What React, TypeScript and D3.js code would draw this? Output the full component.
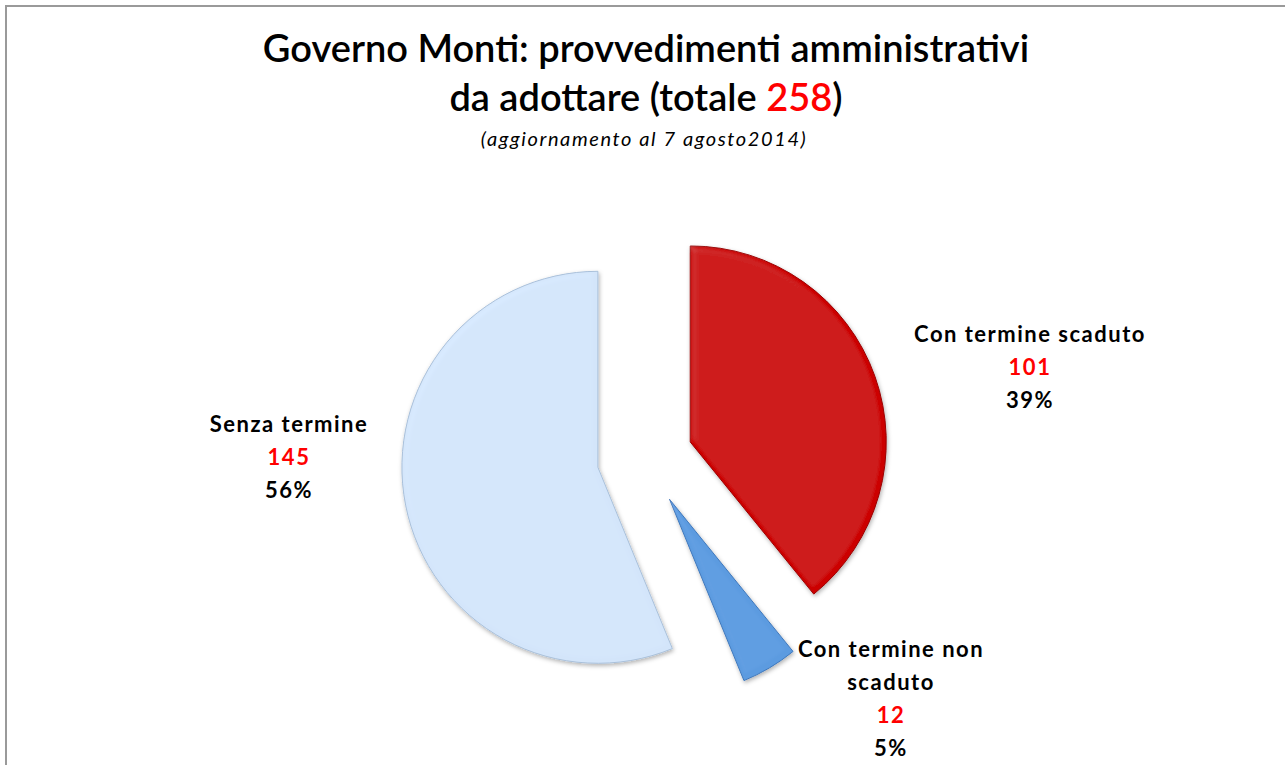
import React from 'react';
import * as d3 from 'd3';

const categories = ['Con termine scaduto', 'Con termine non scaduto', 'Senza termine'];
const values = [101, 12, 145];
const percents = ['39%', '5%', '56%'];
const colors = ['#CC0000', '#5B9BE0', '#D3E5FA'];
const edgeColors = ['#9A0000', '#3F78BC', '#A9C0DA'];

const width = 1285;
const height = 765;
const cx = 645;
const cy = 458;
const radius = 196;
const explode = 48;

// label anchor + line layout per slice
const labelPos = [
    { x: 1030, y: 342, lines: ['Con termine scaduto'] },
    { x: 891, y: 657, lines: ['Con termine non', 'scaduto'] },
    { x: 289, y: 432, lines: ['Senza termine'] },
];

const App = () => {
    const pie = d3.pie<number>().value(d => d).sort(null);
    const arcs = pie(values);
    const arcGen = d3.arc<d3.PieArcDatum<number>>().innerRadius(0).outerRadius(radius);
    const font = 'Lato, "Open Sans", sans-serif';

    return (
        <svg width={width} height={height} style={{ position: 'absolute', left: 0, top: 0 }}>
            <defs>
                <filter id="bevel" x="-20%" y="-20%" width="140%" height="140%">
                    <feGaussianBlur in="SourceAlpha" stdDeviation="3" result="blur" />
                    <feSpecularLighting in="blur" surfaceScale="3" specularConstant="0.5" specularExponent="18" lightingColor="#ffffff" result="spec">
                        <feDistantLight azimuth="225" elevation="50" />
                    </feSpecularLighting>
                    <feComposite in="spec" in2="SourceAlpha" operator="in" result="specIn" />
                    <feComposite in="SourceGraphic" in2="specIn" operator="arithmetic" k1="0" k2="1" k3="0.08" k4="0" result="lit" />
                    <feGaussianBlur in="SourceAlpha" stdDeviation="2" result="sh" />
                    <feOffset in="sh" dx="1" dy="2" result="sho" />
                    <feFlood floodColor="#000" floodOpacity="0.3" />
                    <feComposite in2="sho" operator="in" result="shadow" />
                    <feMerge>
                        <feMergeNode in="shadow" />
                        <feMergeNode in="lit" />
                    </feMerge>
                </filter>
            </defs>
            <rect x={6} y={6} width={width + 10} height={height + 10} fill="#fff" stroke="#9a9a9a" strokeWidth={2} />
            <text x={646} y={62} textAnchor="middle" fontFamily={font} fontSize={38} fontWeight={600} fill="#000">
                Governo Monti: provvedimenti amministrativi
            </text>
            <text x={646} y={111} textAnchor="middle" fontFamily={font} fontSize={38} fontWeight={600} fill="#000">
                da adottare (totale <tspan fill="#FF0000">258</tspan>)
            </text>
            <text x={644} y={146} textAnchor="middle" fontFamily={font} fontSize={20} fontStyle="italic" letterSpacing={1.6} fill="#000">
                (aggiornamento al 7 agosto2014)
            </text>
            {arcs.map((a, i) => {
                const mid = (a.startAngle + a.endAngle) / 2;
                const dx = Math.sin(mid) * explode;
                const dy = -Math.cos(mid) * explode;
                return (
                    <g key={categories[i]} transform={`translate(${cx + dx},${cy + dy})`}>
                        <path d={arcGen(a) ?? ''} fill={colors[i]} stroke={edgeColors[i]} strokeWidth={1} filter="url(#bevel)" />
                    </g>
                );
            })}
            {labelPos.map((p, i) => {
                const lh = 33;
                const n = p.lines.length;
                return (
                    <text key={categories[i]} textAnchor="middle" fontFamily={font} fontSize={22} fontWeight={700} letterSpacing={1.5}>
                        {p.lines.map((l, j) => (
                            <tspan key={j} x={p.x} y={p.y + j * lh} fill="#000">{l}</tspan>
                        ))}
                        <tspan x={p.x} y={p.y + n * lh} fill="#FF0000">{values[i]}</tspan>
                        <tspan x={p.x} y={p.y + (n + 1) * lh} fill="#000">{percents[i]}</tspan>
                    </text>
                );
            })}
        </svg>
    );
};

export default App;
